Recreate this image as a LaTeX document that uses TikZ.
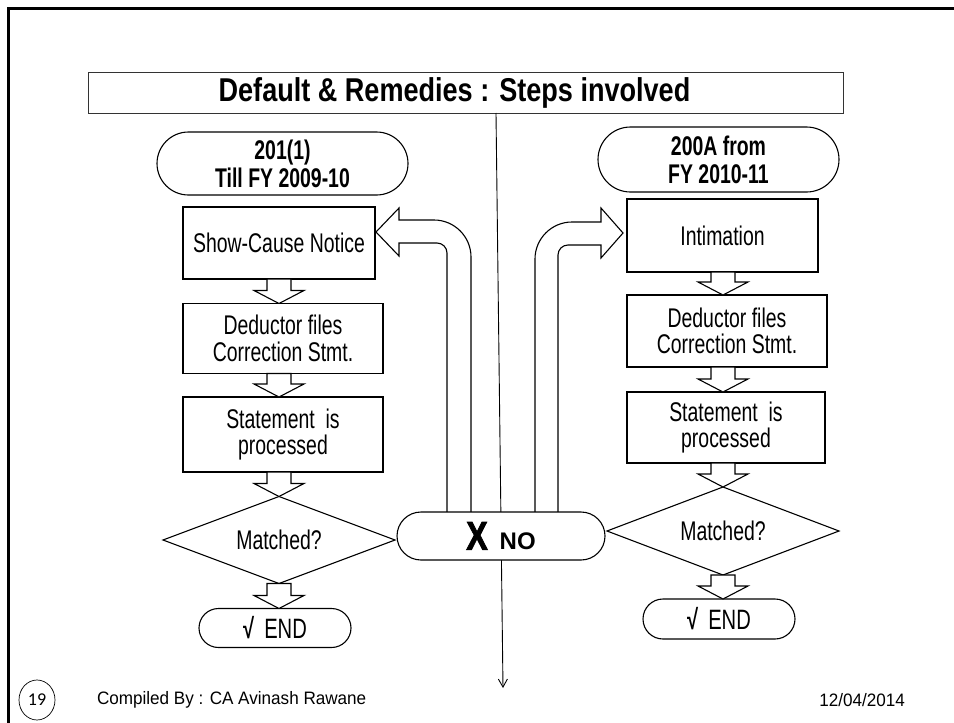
\documentclass[tikz,border=0pt]{standalone}
\usepackage{fontspec}
\setmainfont{Liberation Sans}
\newfontfamily\narrowsans[FakeStretch=0.72]{Liberation Sans}
\newfontfamily\titlesans[FakeStretch=0.82]{Liberation Sans}
\newfontfamily\heavysans[FakeStretch=0.8,FakeBold=2]{Liberation Sans}
\newfontfamily\footsans[FakeStretch=0.95]{Liberation Sans}
\newfontfamily\numfont{Carlito}
\usetikzlibrary{shapes.geometric,shapes.misc,calc,arrows.meta}

% hollow down arrow from one node to the next, at the x position of a third node
\newcommand\blockdown[3]{%
  \draw[blockarrow] let \p1=(#1.south), \p2=(#2.north), \p3=(#3) in
    (\x3-12pt,\y1) -- (\x3-12pt,\y2+13pt) -- (\x3-25pt,\y2+13pt) -- (\x3,\y2)
    -- (\x3+25pt,\y2+13pt) -- (\x3+12pt,\y2+13pt) -- (\x3+12pt,\y1) -- cycle;}

\begin{document}
\begin{tikzpicture}[x=1pt,y=-1pt,
  every node/.style={inner sep=0pt, outer sep=0pt},
  outline/.style={draw=black, line width=1.1pt, fill=white},
  stepbox/.style={outline, rectangle, align=center,
    font=\narrowsans\fontsize{27}{26.5}\selectfont},
  headpill/.style={outline, rounded rectangle, align=center,
    font=\narrowsans\bfseries\fontsize{27}{28}\selectfont},
  endpill/.style={outline, rounded rectangle, minimum width=152pt, minimum height=39pt,
    font=\narrowsans\fontsize{28}{26}\selectfont},
  decision/.style={outline, diamond, aspect=2.7, minimum width=232pt, minimum height=87pt,
    font=\narrowsans\fontsize{27}{26}\selectfont},
  blockarrow/.style={draw=black, line width=1.1pt, fill=white, line join=miter},
]
\useasboundingbox (0,0) rectangle (954,723);

% slide frame
\draw[line width=3pt, line join=miter] (8,723) -- (8,8) -- (954,8);

% heading
\node[draw=black!80, line width=0.8pt, minimum width=755pt, minimum height=41pt,
  font=\titlesans\bfseries\fontsize{33}{33}\selectfont] (T) at (465.5,92.5)
  {\hspace*{-22pt}Default \& Remedies : Steps involved};

% thin divider arrow running down the middle
\coordinate (down) at (503,688);
\draw[line width=0.9pt, -{Straight Barb[length=8pt,width=9pt]}]
  ($(T.south)+(30.5pt,0pt)$) -- (down);

% left column
\node[headpill, minimum width=251pt, minimum height=63pt] (L0) at (282.5,163.5)
  {201(1)\\Till FY 2009-10};
\node[stepbox, minimum width=192pt, minimum height=72pt] (L1) at (279,243)
  {Show-Cause Notice};
\node[stepbox, minimum width=200pt, minimum height=70pt] (L2) at (283,338.5)
  {Deductor files\\Correction Stmt.};
\node[stepbox, minimum width=200pt, minimum height=75pt] (L3) at (283,434.5)
  {Statement\ \ is\\processed};
\node[decision] (LD) at (279,540) {Matched?};
\node[endpill] (LE) at (275,628) {{\bfseries\char"221A}\hspace{10pt}END};

% right column
\node[headpill, minimum width=241pt, minimum height=65pt] (R0) at (718.5,159.5)
  {200A from\\FY 2010-11};
\node[stepbox, minimum width=191pt, minimum height=73pt] (R1) at (722.5,235.5)
  {Intimation};
\node[stepbox, minimum width=200pt, minimum height=72pt] (R2) at (727,331)
  {Deductor files\\Correction Stmt.};
\node[stepbox, minimum width=198pt, minimum height=71pt] (R3) at (726,427.5)
  {Statement\ \ is\\processed};
\node[decision, minimum height=88pt] (RD) at (723,531) {Matched?};
\node[endpill, minimum height=40pt] (RE) at (719,619) {{\bfseries\char"221A}\hspace{10pt}END};

% hollow bent arrow from the NO pill back to the show-cause notice
\draw[blockarrow] let \p1=(L1.east), \p2=(536,512), \p3=(\x1+1pt,\y1+11pt) in
  (\x3+95pt,\y2) -- (\x3+95pt,\y3-25pt)
  .. controls (\x3+95pt,\y3-4.6pt) and (\x3+78.4pt,\y3+12pt) .. (\x3+58pt,\y3+12pt)
  -- (\x3+23pt,\y3+12pt) -- (\x3+23pt,\y3+24pt) -- (\x3,\y3)
  -- (\x3+23pt,\y3-24pt) -- (\x3+23pt,\y3-11pt) -- (\x3+61pt,\y3-11pt)
  .. controls (\x3+66.5pt,\y3-11pt) and (\x3+71pt,\y3-15.5pt) .. (\x3+71pt,\y3-21pt)
  -- (\x3+71pt,\y2);

% hollow bent arrow from the NO pill to the intimation
\draw[blockarrow] let \p1=(R1.west), \p2=(536,512), \p3=(\x1-4pt,\y1+2.5pt) in
  (\x3-88pt,\y2) -- (\x3-88pt,\y3-26pt)
  .. controls (\x3-88pt,\y3-5.6pt) and (\x3-71.4pt,\y3+11pt) .. (\x3-51pt,\y3+11pt)
  -- (\x3-22pt,\y3+11pt) -- (\x3-22pt,\y3+25pt) -- (\x3,\y3)
  -- (\x3-22pt,\y3-25pt) -- (\x3-22pt,\y3-12pt) -- (\x3-55pt,\y3-12pt)
  .. controls (\x3-60.5pt,\y3-12pt) and (\x3-65pt,\y3-16.5pt) .. (\x3-65pt,\y3-22pt)
  -- (\x3-65pt,\y2);

% the NO outcome shared by both decisions
\node[outline, rounded rectangle, minimum width=208pt, minimum height=48pt] (N) at (501,536)
  {{\heavysans\bfseries\fontsize{40}{40}\selectfont X}\hspace{12pt}{\bfseries\fontsize{24}{24}\selectfont NO}};

% hollow down arrows between the steps
\blockdown{L1}{L2}{L1}
\blockdown{L2}{L3}{L1}
\blockdown{L3}{LD}{LD}
\blockdown{LD}{LE}{LD}
\blockdown{R1}{R2}{RD}
\blockdown{R2}{R3}{RD}
\blockdown{R3}{RD}{RD}
\blockdown{RD}{RE}{RD}

% footer
\node[draw=black, line width=0.7pt, ellipse, minimum width=36pt, minimum height=40pt,
  font=\numfont\fontsize{18}{18}\selectfont] (pg) at (37,700) {19};
\node[anchor=west, font=\footsans\fontsize{18}{18}\selectfont] (by) at (97,700)
  {Compiled By : CA Avinash Rawane};
\node[anchor=east, font=\footsans\fontsize{18}{18}\selectfont] (date) at (905,700)
  {12/04/2014};
\end{tikzpicture}
\end{document}
